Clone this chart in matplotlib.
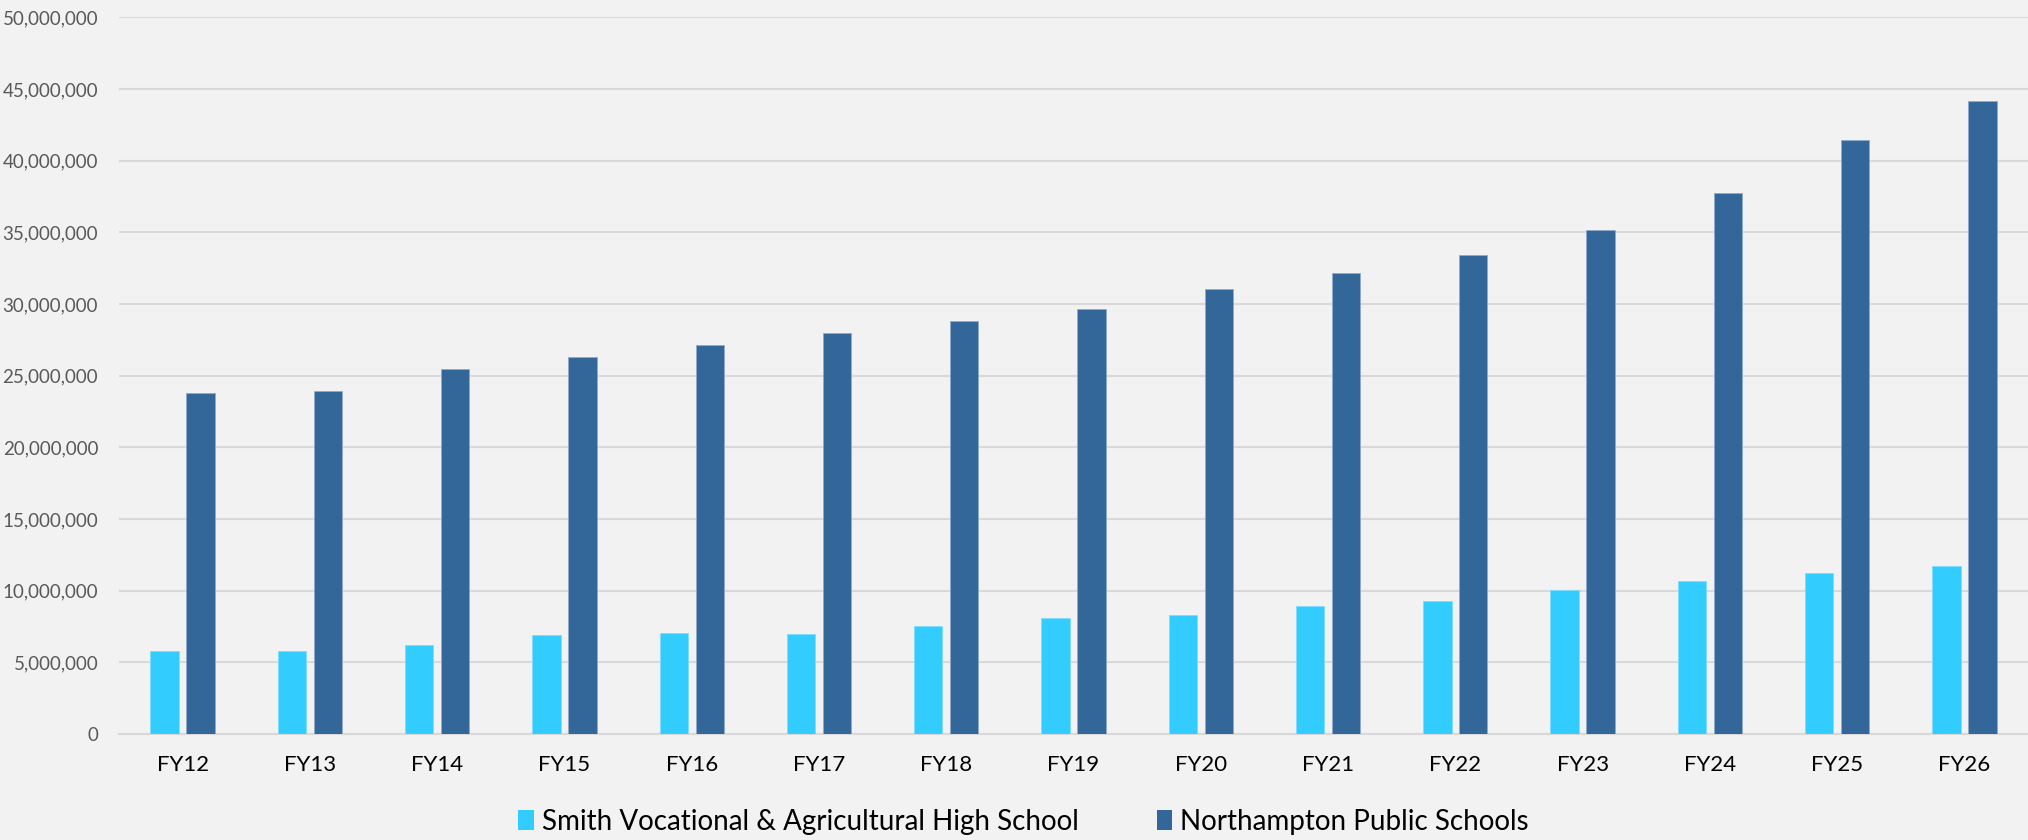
import numpy as np
import matplotlib.pyplot as plt
from matplotlib.patches import Patch
from matplotlib.ticker import FuncFormatter

years = ['FY12', 'FY13', 'FY14', 'FY15', 'FY16', 'FY17', 'FY18', 'FY19',
         'FY20', 'FY21', 'FY22', 'FY23', 'FY24', 'FY25', 'FY26']

smith_voc = [5810000, 5770000, 6210000, 6910000, 7050000, 7000000, 7560000, 8070000,
             8280000, 8930000, 9280000, 10050000, 10700000, 11260000, 11750000]

northampton = [23800000, 23960000, 25470000, 26310000, 27120000, 27960000, 28820000, 29660000,
               31030000, 32150000, 33450000, 35150000, 37750000, 41430000, 44150000]

series_names = ['Smith Vocational & Agricultural High School', 'Northampton Public Schools']
colors = ['#33CCFF', '#336699']

plt.rcParams['font.family'] = ['Lato', 'DejaVu Sans']

fig = plt.figure(figsize=(20.28, 8.4), dpi=100, facecolor='#F2F2F2')
ax = fig.add_axes([0.0587, 0.1262, 0.9413, 0.853])
ax.set_facecolor('#F2F2F2')

x = np.arange(len(years))
width = 0.223
offset = 0.1414

# light outline like the original bars
ax.bar(x - offset, smith_voc, width=width, color=colors[0], edgecolor='#7FDDFF',
       linewidth=0.6, zorder=3)
ax.bar(x + offset, northampton, width=width, color=colors[1], edgecolor='#8FAACC',
       linewidth=0.6, zorder=3)

ax.set_xlim(-0.5, len(years) - 0.5)
ax.set_ylim(0, 50000000)
ax.set_yticks(np.arange(0, 50000001, 5000000))
ax.yaxis.set_major_formatter(FuncFormatter(lambda v, p: '{:,.0f}'.format(v)))
ax.set_xticks(x)
ax.set_xticklabels(years)

ax.grid(axis='y', color='#D9D9D9', linewidth=1.5, zorder=0)
ax.set_axisbelow(True)
for side in ['top', 'right', 'left']:
    ax.spines[side].set_visible(False)
ax.spines['bottom'].set_color('#D9D9D9')
ax.spines['bottom'].set_linewidth(1.5)

ax.tick_params(axis='y', length=0, pad=15, labelsize=13.5, labelcolor='#595959')
ax.tick_params(axis='x', length=0, pad=15, labelsize=16, labelcolor='#000000')

handles = [Patch(facecolor=c, edgecolor='none') for c in colors]
fig.legend(handles, series_names, loc='center', bbox_to_anchor=(0.5047, 0.022),
           ncol=2, frameon=False, fontsize=20, handlelength=0.55, handleheight=0.75,
           handletextpad=0.3, columnspacing=2.8)

fig.savefig('out.png', dpi=100, facecolor=fig.get_facecolor())
